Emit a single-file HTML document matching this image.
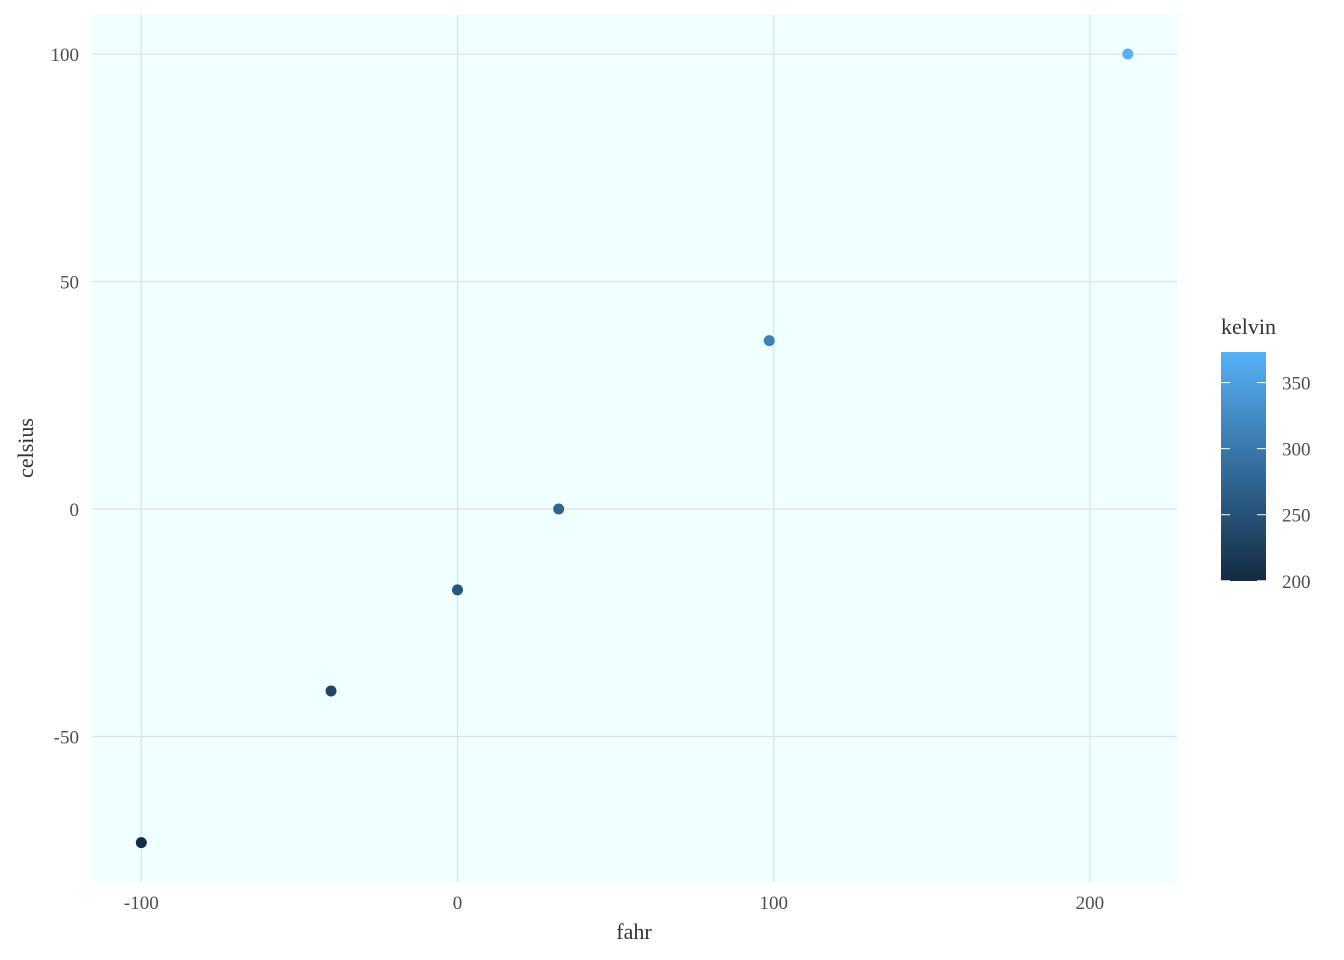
<!DOCTYPE html>
<html><head><meta charset="utf-8"><style>
body{margin:0;background:#fff;}
svg{display:block;font-family:"Liberation Serif",serif;}
</style></head><body>
<svg id="chart" width="1344" height="960">
<defs><linearGradient id="grad" x1="0" y1="1" x2="0" y2="0">
<stop offset="0" stop-color="#132B43"/><stop offset="1" stop-color="#56B1F7"/></linearGradient></defs>
<rect x="92" y="15" width="1085" height="867" fill="#F0FFFF"/>
<g id="grid"></g><g id="pts"></g><g id="axes"></g>
<text x="634" y="939" text-anchor="middle" font-size="22" fill="#333">fahr</text>
<text transform="translate(33,448) rotate(-90)" text-anchor="middle" font-size="22" fill="#333">celsius</text>
<text x="1221" y="334" font-size="22" fill="#333">kelvin</text>
<rect id="cbar" x="1221" width="45" fill="url(#grad)"/>
<g id="leg"></g>
</svg>
<script>
const fahr=[-100,-40,0,32,98.6,212];
const celsius=[-73.33,-40,-17.78,0,37,100];
const kelvin=[199.82,233.15,255.37,273.15,310.15,373.15];
const xTicks=[-100,0,100,200];
const yTicks=[-50,0,50,100];
const kTicks=[200,250,300,350];
const ns="http://www.w3.org/2000/svg";
const X=v=>457.5+(v)*3.162;
const Y=v=>509-(v)*4.55;
const kmin=Math.min(...kelvin),kmax=Math.max(...kelvin);
const K=v=>581-(v-kmin)/(kmax-kmin)*229;
function col(v){const t=(v-kmin)/(kmax-kmin);const a=[0x13,0x2B,0x43],b=[0x56,0xB1,0xF7];
return 'rgb('+a.map((c,i)=>Math.round(c+(b[i]-c)*t)).join(',')+')';}
function mk(tag,attrs,parent){const e=document.createElementNS(ns,tag);for(const k in attrs)e.setAttribute(k,attrs[k]);parent.appendChild(e);return e;}
const g=document.getElementById('grid'),p=document.getElementById('pts'),ax=document.getElementById('axes'),lg=document.getElementById('leg');
xTicks.forEach(v=>{const l=mk('line',{x1:X(v),x2:X(v),y1:15,y2:882,stroke:'#dde3e3','stroke-width':1.2},g);

const t=mk('text',{x:X(v),y:909,'text-anchor':'middle','font-size':19,fill:'#4d4d4d'},ax);t.textContent=v;
});
yTicks.forEach(v=>{const l=mk('line',{x1:92,x2:1177,y1:Y(v),y2:Y(v),stroke:'#dde3e3','stroke-width':1.2},g);

const t=mk('text',{x:79,y:Y(v)+7,'text-anchor':'end','font-size':19,fill:'#4d4d4d'},ax);t.textContent=v;
});
fahr.forEach((f,i)=>{const c=mk('circle',{cx:X(f),cy:Y(celsius[i]),r:5.5,fill:col(kelvin[i])},p);
});
const cb=document.getElementById('cbar');cb.setAttribute('y',K(kmax));cb.setAttribute('height',K(kmin)-K(kmax));
kTicks.forEach(v=>{const y=K(v);
mk('line',{x1:1221,x2:1230,y1:y,y2:y,stroke:'#fff','stroke-width':1},lg);
mk('line',{x1:1257,x2:1266,y1:y,y2:y,stroke:'#fff','stroke-width':1},lg);
const t=mk('text',{x:1282,y:y+7,'font-size':19,fill:'#4d4d4d'},lg);t.textContent=v;
});
</script>
</body></html>
